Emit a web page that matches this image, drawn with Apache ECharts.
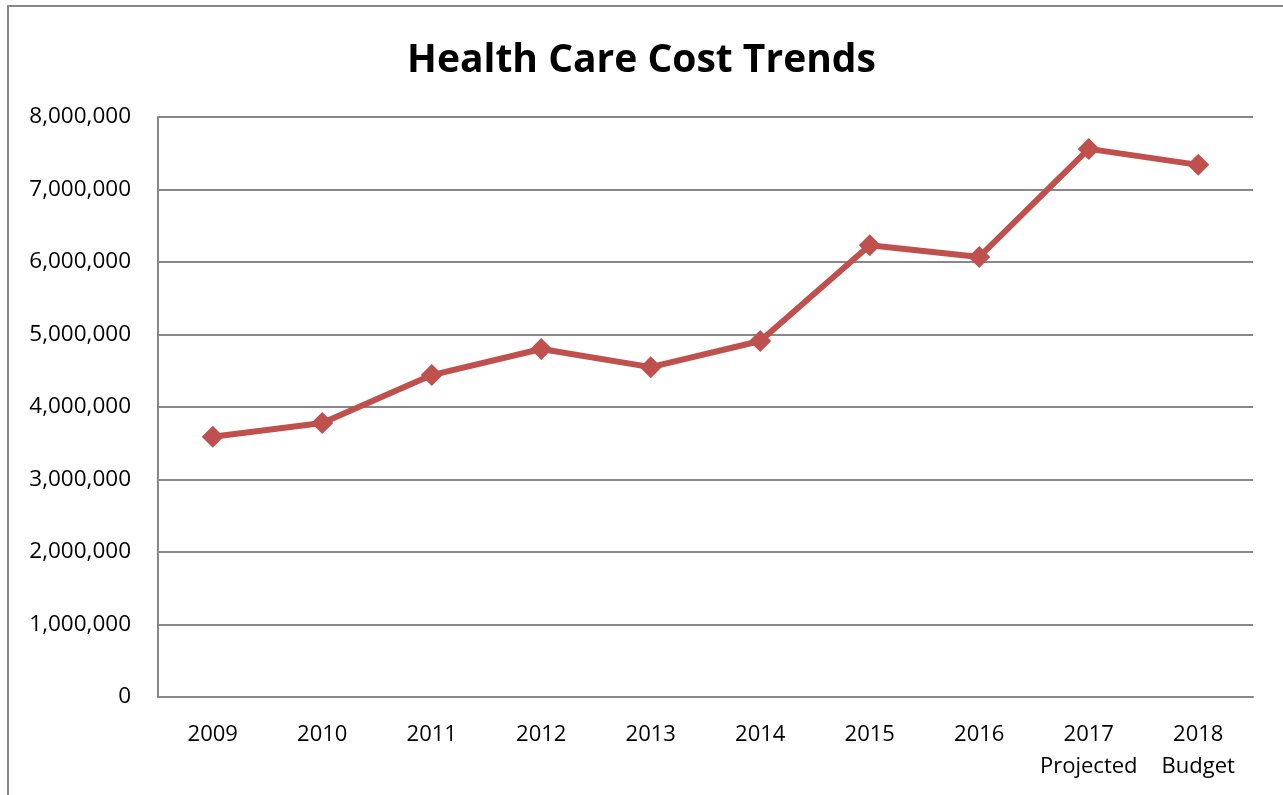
<!DOCTYPE html>
<html>
<head>
<meta charset="utf-8">
<script src="https://cdn.jsdelivr.net/npm/echarts@6/dist/echarts.min.js"></script>
<style>
  html, body { margin: 0; padding: 0; background: #fff; }
  #chart { width: 1283px; height: 795px; }
</style>
</head>
<body>
<div id="chart"></div>
<script>
// chart data
const years = ['2009', '2010', '2011', '2012', '2013', '2014', '2015', '2016', '2017\nProjected', '2018\nBudget']
const costs = [3590000, 3780000, 4440000, 4800000, 4550000, 4910000, 6230000, 6070000, 7560000, 7340000]
const yTicks = { min: 0, max: 8000000, interval: 1000000 }

const font = 'Open Sans'
const chart = echarts.init(document.getElementById('chart'))

const option = {
  animation: false,
  title: {
    text: 'Health Care Cost Trends',
    left: 'center',
    top: 36,
    textStyle: {
      fontFamily: font,
      fontSize: 39,
      fontWeight: 'bold',
      color: '#000'
    }
  },
  // outer chart frame
  graphic: [
    {
      type: 'rect',
      shape: { x: 8, y: 6, width: 1300, height: 820 },
      style: { fill: 'none', stroke: '#888', lineWidth: 2 },
      silent: true
    }
  ],
  grid: {
    left: 158,
    right: 30,
    top: 117,
    bottom: 98
  },
  xAxis: {
    type: 'category',
    data: years,
    boundaryGap: true,
    axisLine: { lineStyle: { color: '#888', width: 2 } },
    axisTick: { show: false },
    axisLabel: {
      fontFamily: font,
      fontSize: 22,
      color: '#000',
      margin: 22,
      lineHeight: 32,
      interval: 0
    }
  },
  yAxis: {
    type: 'value',
    min: yTicks.min,
    max: yTicks.max,
    interval: yTicks.interval,
    axisLine: { show: true, lineStyle: { color: '#888', width: 2 } },
    axisTick: { show: false },
    splitLine: { lineStyle: { color: '#888', width: 2 } },
    axisLabel: {
      fontFamily: font,
      fontSize: 22.5,
      color: '#000',
      margin: 27,
      formatter: v => v.toLocaleString('en-US')
    }
  },
  series: [
    {
      type: 'line',
      data: costs,
      symbol: 'diamond',
      symbolSize: 22,
      lineStyle: { color: '#C0504D', width: 6 },
      itemStyle: { color: '#C0504D' }
    }
  ]
}

chart.setOption(option)
</script>
</body>
</html>
